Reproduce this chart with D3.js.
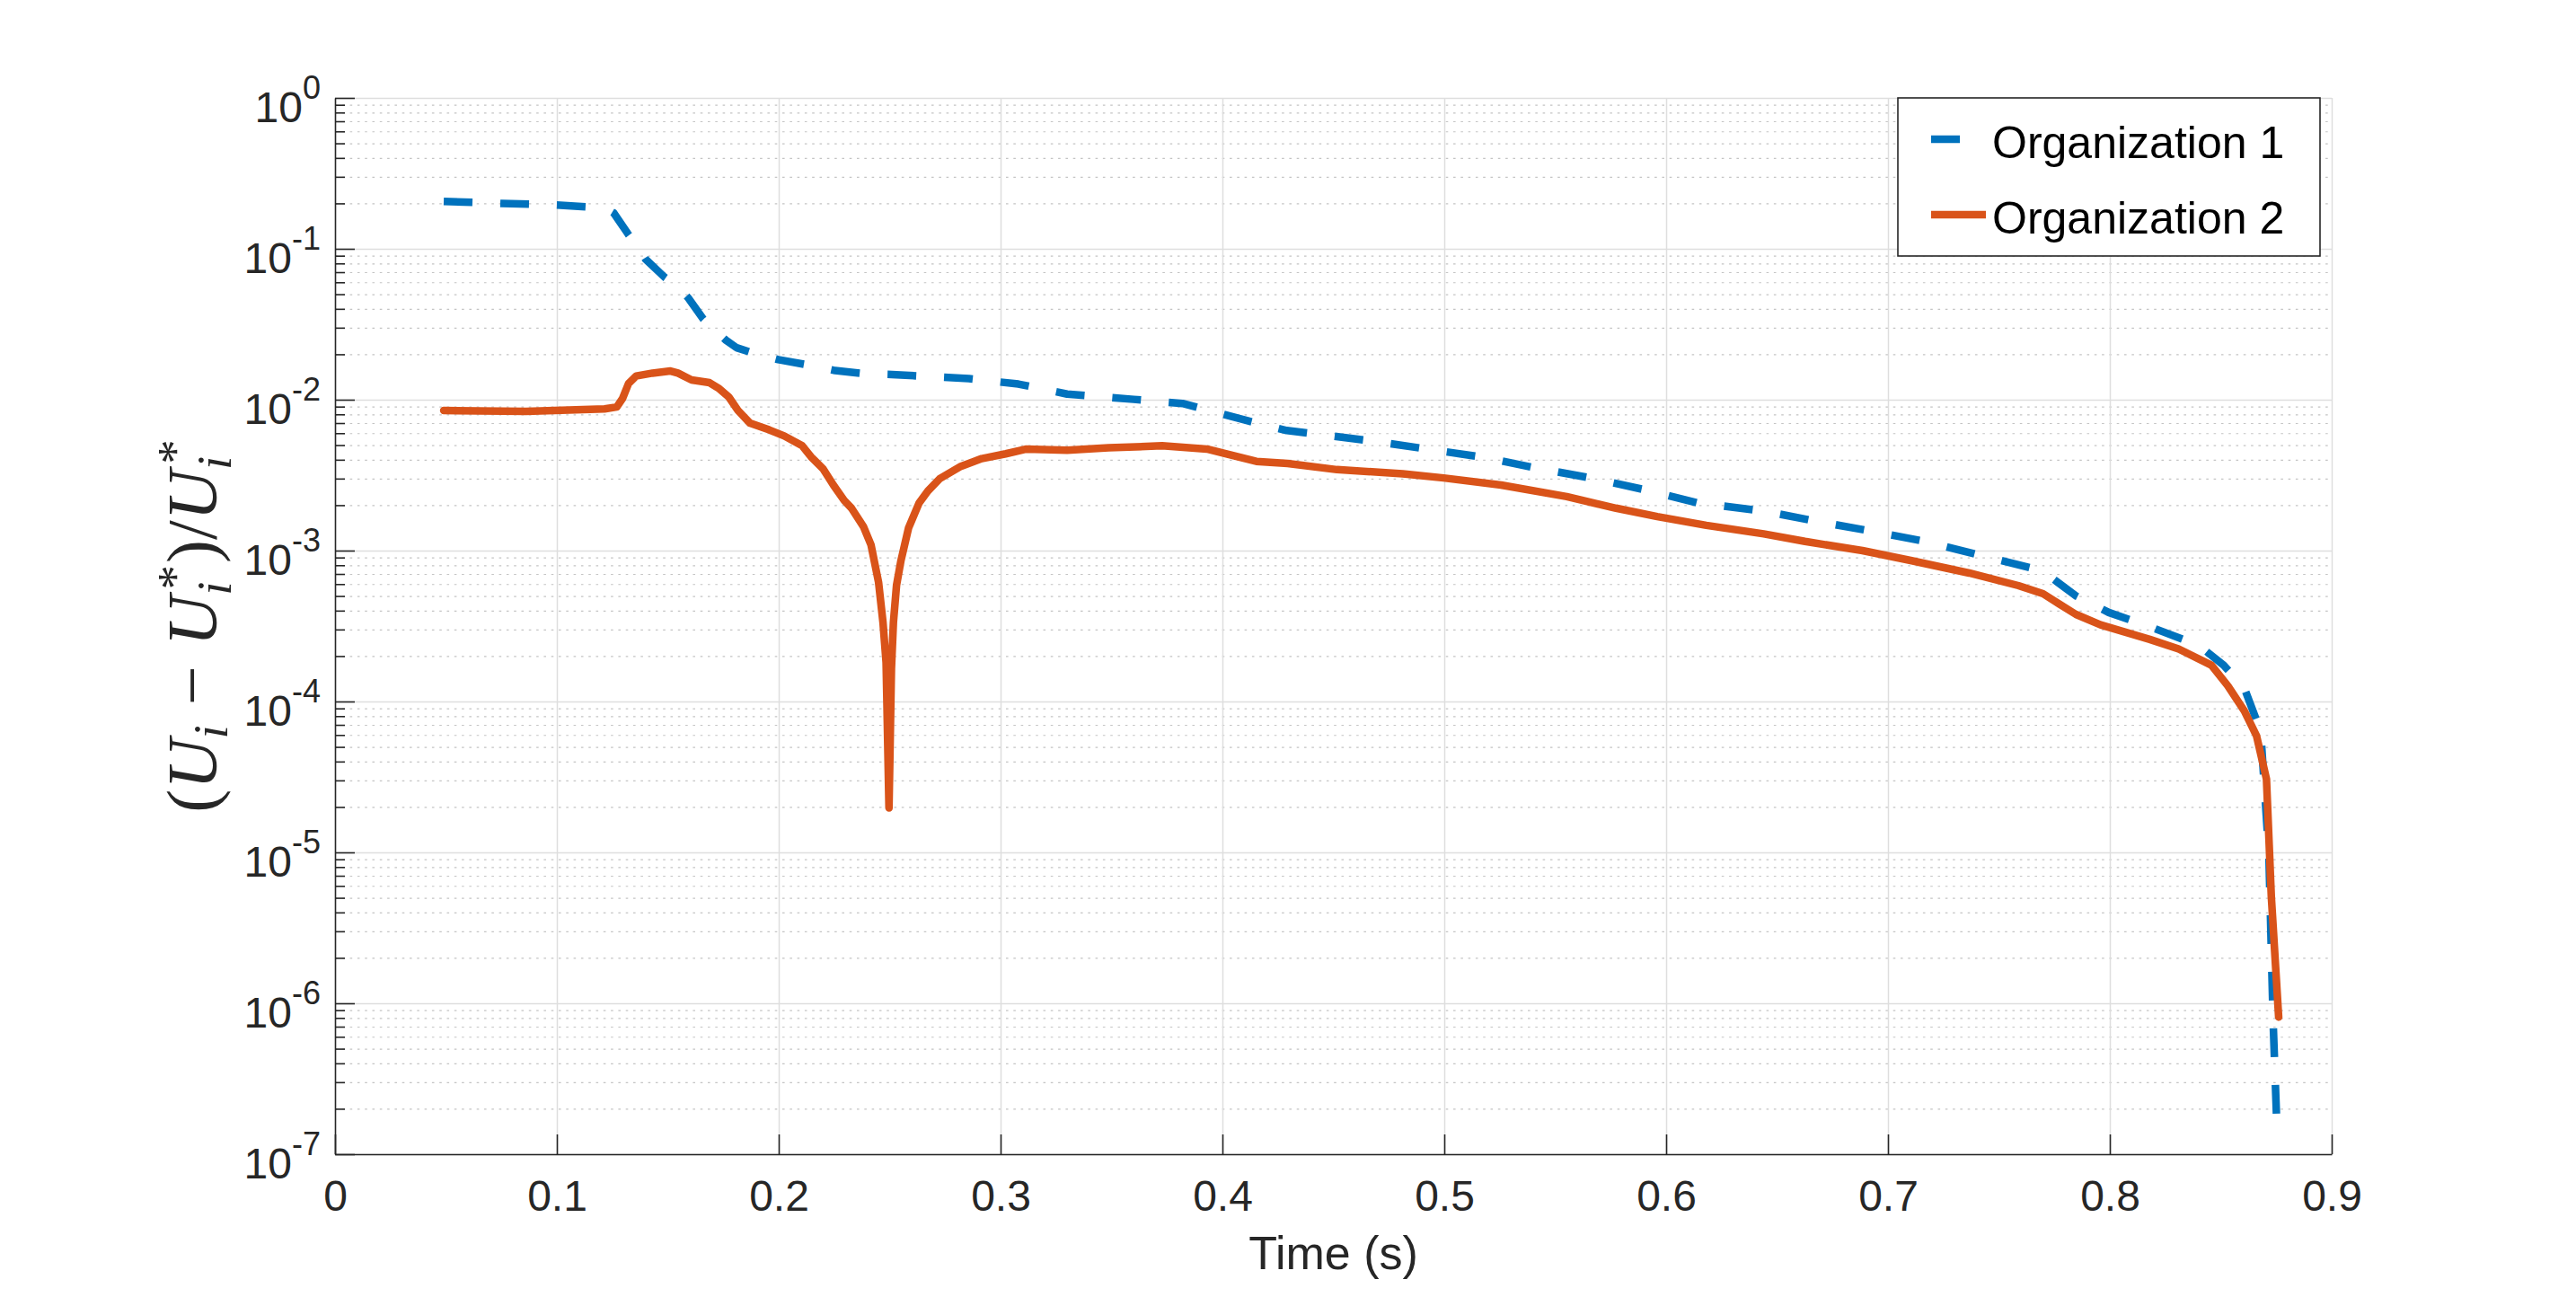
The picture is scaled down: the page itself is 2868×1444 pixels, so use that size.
<!DOCTYPE html>
<html>
<head>
<meta charset="utf-8">
<script src="https://cdn.jsdelivr.net/npm/d3@7"></script>
<style>
  body { margin: 0; background: #fff; }
  svg { display: block; }
</style>
</head>
<body>
<svg width="2868" height="1444"></svg>
<script>
// ---- Dados
const timeOrg1 = [0.049, 0.075, 0.100, 0.113, 0.122, 0.1256, 0.132, 0.137, 0.140, 0.1485, 0.154, 0.1593, 0.166, 0.171,
  0.1762, 0.181, 0.187, 0.1998, 0.2126, 0.2254, 0.238, 0.251, 0.2639, 0.2857, 0.308, 0.330, 0.360, 0.382, 0.4117,
  0.429, 0.4664, 0.4923, 0.518, 0.5404, 0.566, 0.592, 0.614, 0.644, 0.666, 0.692, 0.718, 0.740, 0.766, 0.7735,
  0.7847, 0.7995, 0.818, 0.840, 0.8513, 0.8606, 0.868, 0.8717, 0.8736, 0.8755];
const errOrg1 = [0.206, 0.200, 0.195, 0.190, 0.186, 0.173, 0.126, 0.100, 0.0853, 0.0649, 0.057, 0.0471, 0.0342, 0.029,
  0.0248, 0.0221, 0.0207, 0.01845, 0.01706, 0.0156, 0.0149, 0.0147, 0.01435, 0.0138, 0.0127, 0.0109, 0.01005, 0.00944, 0.00723,
  0.00625, 0.00535, 0.00471, 0.00415, 0.00355, 0.00303, 0.0025, 0.00207, 0.00183, 0.00158, 0.00135, 0.00114, 0.000942, 0.000757, 0.000665,
  0.000501, 0.000389, 0.000313, 0.000236, 0.000174, 0.000123, 6.34e-5, 9.5e-6, 7.6e-7, 1.26e-7];

const timeOrg2 = [0.049, 0.086, 0.1215, 0.127, 0.1296, 0.1323, 0.1357, 0.1431, 0.1512, 0.1546, 0.1607, 0.1688, 0.1728,
  0.1775, 0.1816, 0.187, 0.1957, 0.2025, 0.2106, 0.2146, 0.220, 0.2247, 0.2295, 0.2328, 0.2382, 0.2416, 0.245, 0.247,
  0.2484, 0.2497, 0.2508, 0.2517, 0.2531, 0.2551, 0.2585, 0.2632, 0.2672, 0.2726, 0.2821, 0.2915, 0.3023, 0.3117,
  0.330, 0.3487, 0.3728, 0.393, 0.4153, 0.4294, 0.4516, 0.4813, 0.4997, 0.5256, 0.5552, 0.5774, 0.596, 0.6181,
  0.644, 0.6626, 0.6885, 0.7107, 0.7366, 0.7588, 0.7699, 0.7773, 0.7847, 0.7958, 0.818, 0.831, 0.8458, 0.8532,
  0.8606, 0.8661, 0.8706, 0.8728, 0.8761];
const errOrg2 = [0.00848, 0.00838, 0.00869, 0.00895, 0.0102, 0.0128, 0.01435, 0.0150, 0.01549, 0.0150, 0.01352, 0.01297, 0.01194,
  0.01042, 0.00849, 0.0070, 0.00631, 0.00575, 0.00495, 0.00418, 0.00348, 0.00271, 0.00215, 0.00191, 0.00144, 0.00109, 0.000617, 0.000334,
  0.000181, 1.97e-5, 0.000164, 0.000334, 0.000589, 0.000859, 0.00141, 0.00206, 0.00248, 0.0030, 0.00362, 0.00407, 0.00438, 0.00471,
  0.00462, 0.0048, 0.00495, 0.00471, 0.0039, 0.00378, 0.00344, 0.00323, 0.00303, 0.00272, 0.00228, 0.00191, 0.00168, 0.00147,
  0.00129, 0.00115, 0.0010, 0.000857, 0.00071, 0.000586, 0.000518, 0.000442, 0.000378, 0.000322, 0.000258, 0.000223, 0.000174, 0.000127,
  8.67e-5, 5.94e-5, 3.06e-5, 5.07e-6, 8.1e-7];

const seriesNames = ['Organization 1', 'Organization 2'];
const xTicks = [0, 0.1, 0.2, 0.3, 0.4, 0.5, 0.6, 0.7, 0.8, 0.9];
const yExponents = [-7, -6, -5, -4, -3, -2, -1, 0];
const labels = { x: 'Time (s)' };

// ---- Layout
const margins = { left: 373, right: 272, top: 109, bottom: 159 };
const svg = d3.select('svg');
const W = +svg.attr('width') - margins.left - margins.right;
const H = +svg.attr('height') - margins.top - margins.bottom;
const axisColor = '#262626';
const colors = ['#0072BD', '#D95319'];
const fontSans = '"Liberation Sans", Arial, Helvetica, sans-serif';
const fontSerif = '"Liberation Serif", "Times New Roman", serif';

const mapX = d3.scaleLinear().domain([0, 0.9]).range([0, W]);
const mapY = d3.scaleLog().domain([1e-7, 1]).range([H, 0]);

const g = svg.append('g').attr('transform', `translate(${margins.left}, ${margins.top})`);

const majorY = yExponents.map(e => Math.pow(10, e));
const minorY = [];
yExponents.slice(0, -1).forEach(e => {
  for (let k = 2; k <= 9; k++) minorY.push(k * Math.pow(10, e));
});

// ---- Grade
g.append('g').attr('class', 'grid-minor')
  .call(d3.axisLeft(mapY).tickValues(minorY).tickSize(-W).tickFormat(''))
  .call(s => s.select('.domain').remove())
  .selectAll('line')
  .attr('stroke', '#c4c4c4').attr('stroke-width', 1.2).attr('stroke-dasharray', '2.6 5.7');

g.append('g').attr('class', 'grid-major-y')
  .call(d3.axisLeft(mapY).tickValues(majorY).tickSize(-W).tickFormat(''))
  .call(s => s.select('.domain').remove())
  .selectAll('line').attr('stroke', '#dedede').attr('stroke-width', 1.5);

g.append('g').attr('class', 'grid-major-x')
  .attr('transform', `translate(0, ${H})`)
  .call(d3.axisBottom(mapX).tickValues(xTicks.slice(1)).tickSize(H).tickFormat(''))
  .call(s => s.select('.domain').remove())
  .selectAll('line').attr('stroke', '#dedede').attr('stroke-width', 1.5).attr('y2', -H);

// ---- Linhas
const line = d3.line().x(d => mapX(d[0])).y(d => mapY(d[1]));
const seriesData = [
  d3.zip(timeOrg1, errOrg1),
  d3.zip(timeOrg2, errOrg2)
];

g.append('path').datum(seriesData[0])
  .attr('d', line).attr('fill', 'none')
  .attr('stroke', colors[0]).attr('stroke-width', 8.5)
  .attr('stroke-dasharray', '32 31').attr('stroke-linejoin', 'round');

g.append('path').datum(seriesData[1])
  .attr('d', line).attr('fill', 'none')
  .attr('stroke', colors[1]).attr('stroke-width', 8.5)
  .attr('stroke-linejoin', 'round').attr('stroke-linecap', 'round');

// ---- Eixos
const xAxis = g.append('g').attr('class', 'x axis')
  .attr('transform', `translate(0, ${H})`)
  .call(d3.axisBottom(mapX).tickValues(xTicks).tickSizeInner(-22).tickSizeOuter(0)
    .tickFormat(d => d === 0 ? '0' : d3.format('.1f')(d)));
xAxis.select('.domain').attr('stroke', axisColor).attr('stroke-width', 1.6);
xAxis.selectAll('line').attr('stroke', axisColor).attr('stroke-width', 1.6);
xAxis.selectAll('text')
  .attr('y', 63).attr('dy', 0)
  .attr('fill', axisColor)
  .style('font-family', fontSans).style('font-size', '48px');

const yAxis = g.append('g').attr('class', 'y axis')
  .call(d3.axisLeft(mapY).tickValues(majorY).tickSizeInner(-22).tickSizeOuter(0).tickFormat(''));
yAxis.select('.domain').attr('stroke', axisColor).attr('stroke-width', 1.6);
yAxis.selectAll('line').attr('stroke', axisColor).attr('stroke-width', 1.6);

g.append('g').attr('class', 'y minor')
  .call(d3.axisLeft(mapY).tickValues(minorY).tickSizeInner(-11).tickSizeOuter(0).tickFormat(''))
  .call(s => s.select('.domain').remove())
  .selectAll('line').attr('stroke', axisColor).attr('stroke-width', 1.6);

// rótulos 10^n
const yLabels = g.append('g').selectAll('text').data(yExponents).join('text')
  .attr('x', -16)
  .attr('y', d => mapY(Math.pow(10, d)) + 27)
  .attr('text-anchor', 'end')
  .attr('fill', axisColor)
  .style('font-family', fontSans)
  .style('font-size', '48px');
yLabels.append('tspan').text('10');
yLabels.append('tspan').attr('dy', -26).style('font-size', '36px').text(d => String(d));

// rótulo x
g.append('text')
  .attr('x', W / 2).attr('y', H + 128)
  .attr('text-anchor', 'middle')
  .attr('fill', axisColor)
  .style('font-family', fontSans).style('font-size', '52px')
  .text(labels.x);

// rótulo y: (U_i - U_i^*)/U_i^*
const F = 78, s = 55;
const yl = svg.append('text')
  .attr('transform', `translate(240, ${margins.top + H / 2}) rotate(-90)`)
  .attr('text-anchor', 'middle')
  .attr('fill', axisColor)
  .style('font-family', fontSerif)
  .style('font-size', F + 'px');
const parts = [
  { t: '(' },
  { t: 'U', it: true },
  { t: 'i', it: true, size: s, dy: 13 },
  { t: '\u2212', dx: 22, dy: -13 },
  { t: 'U', it: true, dx: 22 },
  { t: 'i', it: true, size: s, dy: 17 },
  { t: '*', size: s, dx: -9, dy: -44 },
  { t: ')', dx: 2, dy: 27 },
  { t: '/' },
  { t: 'U', it: true },
  { t: 'i', it: true, size: s, dy: 17 },
  { t: '*', size: s, dx: -9, dy: -44 }
];
parts.forEach(p => {
  const ts = yl.append('tspan').text(p.t);
  if (p.it) ts.style('font-style', 'italic');
  if (p.size) ts.style('font-size', p.size + 'px');
  if (p.dy) ts.attr('dy', p.dy);
  if (p.dx) ts.attr('dx', p.dx);
});

// ---- Legenda
const legend = svg.append('g').attr('class', 'legend');
legend.append('rect')
  .attr('x', 2113).attr('y', 109).attr('width', 470).attr('height', 176)
  .attr('fill', '#fff').attr('stroke', axisColor).attr('stroke-width', 1.6);
const legendRows = legend.selectAll('g.row').data(seriesNames).join('g')
  .attr('class', 'row')
  .attr('transform', (d, i) => `translate(2150, ${155 + i * 84})`);
legendRows.append('line')
  .attr('x1', 0).attr('x2', 61).attr('y1', 0).attr('y2', 0)
  .attr('stroke', (d, i) => colors[i]).attr('stroke-width', 8.5)
  .attr('stroke-dasharray', (d, i) => i === 0 ? '32 31' : null);
legendRows.append('text')
  .attr('x', 68).attr('y', 20.5)
  .attr('fill', '#000')
  .style('font-family', fontSans).style('font-size', '50px')
  .text(d => d);
</script>
</body>
</html>
